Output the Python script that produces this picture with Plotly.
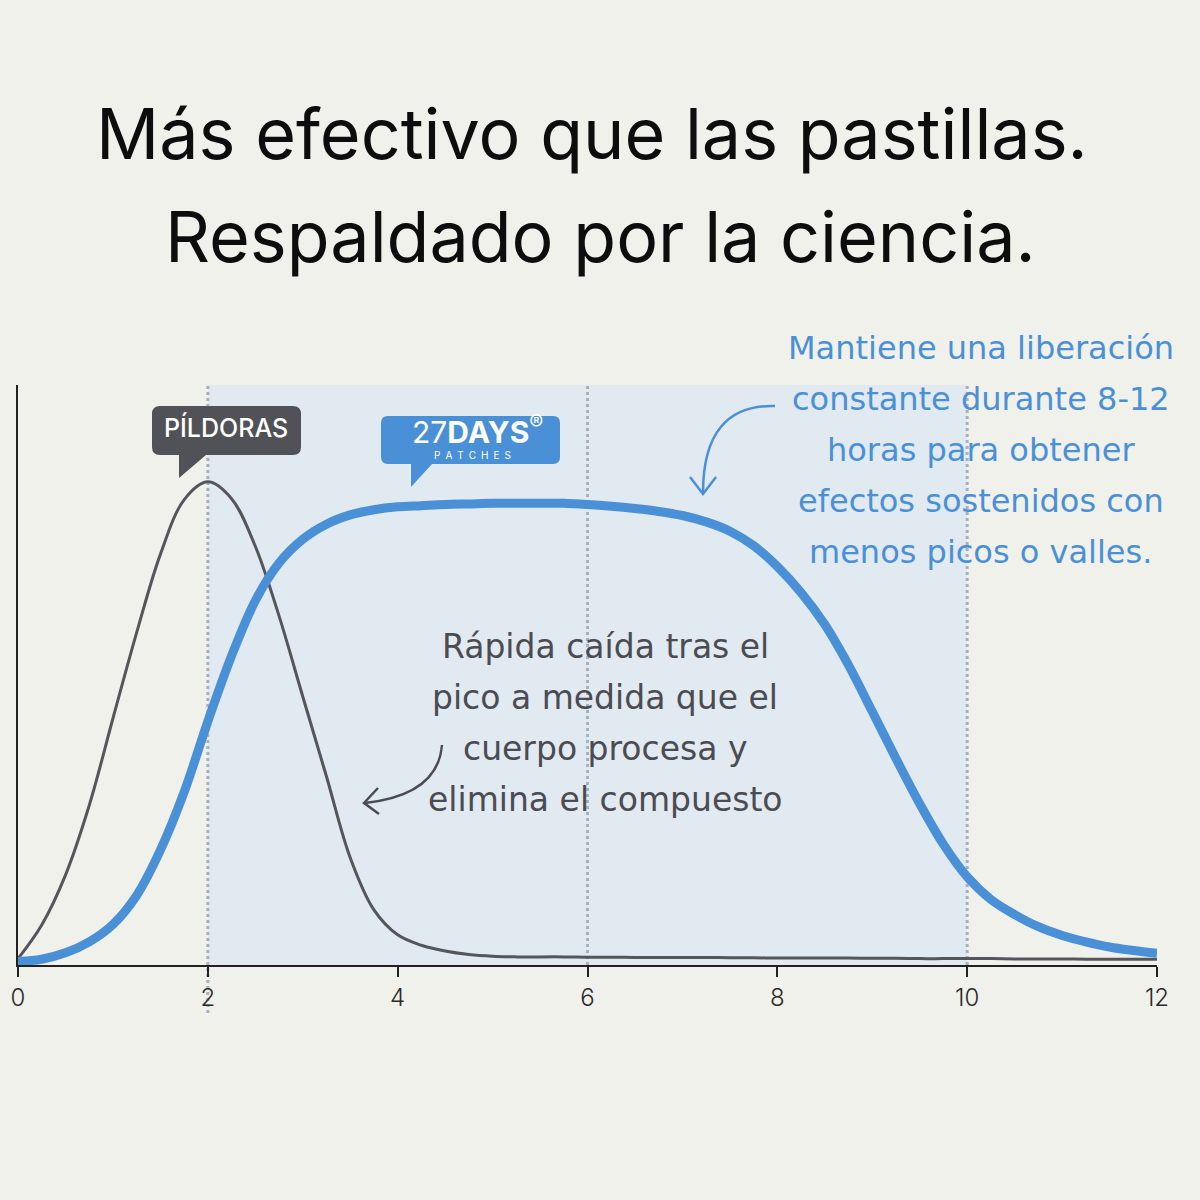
import plotly.graph_objects as go

# hours after intake, sampled every quarter hour
hours = [i * 0.25 for i in range(49)]

# level in % of plot height
level_pill = [1.1, 6.9, 15.5, 27.5, 42.5, 57.3, 70.8, 80.2, 83.3, 80.4, 72.2, 60.2,
              46.3, 32.5, 18.5, 9.5, 5.2, 3.4, 2.4, 1.8, 1.5, 1.4, 1.4, 1.4,
              1.35, 1.35, 1.3, 1.3, 1.3, 1.3, 1.25, 1.25, 1.2, 1.2, 1.2, 1.2,
              1.15, 1.15, 1.1, 1.1, 1.1, 1.1, 1.05, 1.05, 1.05, 1.0, 1.0, 1.0, 1.0]

level_patch = [0.6, 1.0, 2.1, 4.0, 7.0, 12.0, 19.8, 29.8, 42.0, 53.3, 62.8, 69.3,
               73.4, 76.0, 77.6, 78.5, 79.0, 79.2, 79.4, 79.5, 79.6, 79.6, 79.6, 79.6,
               79.4, 79.1, 78.7, 78.2, 77.5, 76.4, 74.8, 72.3, 68.7, 64.2, 58.7, 51.7,
               43.7, 35.6, 27.8, 20.8, 15.2, 11.3, 8.7, 6.6, 5.1, 4.0, 3.1, 2.5, 2.0]

tick_vals = [0, 2, 4, 6, 8, 10, 12]
guide_hours = [2, 6, 10]

title_lines = ["Más efectivo que las pastillas.", "Respaldado por la ciencia."]
patch_note = ["Mantiene una liberación", "constante durante 8-12", "horas para obtener",
              "efectos sostenidos con", "menos picos o valles."]
pill_note = ["Rápida caída tras el", "pico a medida que el", "cuerpo procesa y",
             "elimina el compuesto"]

BG = "#f1f1eb"
BLUE = "#4a90d6"
GREY = "#55565b"
NOTE_GREY = "#4b4b52"
HAND = "DejaVu Sans"

# plot box in pixels
L, R, T, B = 18, 1157, 385, 965


def px(x):
    return (x - L) / (R - L)


def py(y):
    return (B - y) / (B - T)


def box_path(x0, y0, x1, y1, r, tail):
    # rounded box with a speech tail, pixel coords -> paper
    pts = [f"M {px(x0 + r)} {py(y0)}",
           f"L {px(x1 - r)} {py(y0)}", f"Q {px(x1)} {py(y0)} {px(x1)} {py(y0 + r)}",
           f"L {px(x1)} {py(y1 - r)}", f"Q {px(x1)} {py(y1)} {px(x1 - r)} {py(y1)}",
           f"L {px(tail[1])} {py(y1)}", f"L {px(tail[0])} {py(tail[2])}",
           f"L {px(tail[0])} {py(y1)}",
           f"L {px(x0 + r)} {py(y1)}", f"Q {px(x0)} {py(y1)} {px(x0)} {py(y1 - r)}",
           f"L {px(x0)} {py(y0 + r)}", f"Q {px(x0)} {py(y0)} {px(x0 + r)} {py(y0)}", "Z"]
    return " ".join(pts)


def curve_path(p0, c, p1):
    return f"M {px(p0[0])} {py(p0[1])} Q {px(c[0])} {py(c[1])} {px(p1[0])} {py(p1[1])}"


def head_path(tip, a, b):
    return f"M {px(a[0])} {py(a[1])} L {px(tip[0])} {py(tip[1])} L {px(b[0])} {py(b[1])}"


fig = go.Figure()

fig.add_trace(go.Scatter(
    x=hours, y=level_pill, mode="lines",
    line=dict(color=GREY, width=3, shape="spline", smoothing=1.0),
    name="Píldoras", hoverinfo="skip"))

fig.add_trace(go.Scatter(
    x=hours, y=level_patch, mode="lines",
    line=dict(color=BLUE, width=9, shape="spline", smoothing=1.0),
    name="27Days", hoverinfo="skip"))

shapes = []
# shaded window
shapes.append(dict(type="rect", xref="x", yref="paper", x0=2, x1=10, y0=0, y1=1,
                   fillcolor="#e1e9f1", line_width=0, layer="below"))
for h in guide_hours:
    shapes.append(dict(type="line", xref="x", yref="paper", x0=h, x1=h,
                       y0=py(1013) if h == 2 else 0, y1=1,
                       line=dict(color="#a5b0c1", width=3, dash="dot"), layer="below"))

# callout boxes
shapes.append(dict(type="path", xref="paper", yref="paper",
                   path=box_path(152, 406, 301, 455, 8, (179, 206, 478)),
                   fillcolor="#515257", line_width=0))
shapes.append(dict(type="path", xref="paper", yref="paper",
                   path=box_path(381, 416, 560, 464, 7, (411, 432, 487)),
                   fillcolor=BLUE, line_width=0))

# hand drawn arrows
shapes.append(dict(type="path", xref="paper", yref="paper",
                   path=curve_path((775, 406), (703, 404), (703, 493)),
                   line=dict(color=BLUE, width=2.5)))
shapes.append(dict(type="path", xref="paper", yref="paper",
                   path=head_path((703, 494), (690, 477), (716, 477)),
                   line=dict(color=BLUE, width=2.5)))
shapes.append(dict(type="path", xref="paper", yref="paper",
                   path=curve_path((442, 745), (438, 795), (365, 803)),
                   line=dict(color=NOTE_GREY, width=2.5)))
shapes.append(dict(type="path", xref="paper", yref="paper",
                   path=head_path((364, 803), (378, 788), (379, 814)),
                   line=dict(color=NOTE_GREY, width=2.5)))

annotations = []
for i, line in enumerate(title_lines):
    annotations.append(dict(
        text=line, xref="paper", yref="paper", x=px(592 + 8 * i), y=py(133 + 104 * i),
        xanchor="center", yanchor="middle", showarrow=False,
        font=dict(family="Inter", size=70, color="#0d0d0d")))

for i, line in enumerate(patch_note):
    annotations.append(dict(
        text=line, xref="paper", yref="paper", x=px(981), y=py(348 + 51 * i),
        xanchor="center", yanchor="middle", showarrow=False,
        font=dict(family=HAND, size=32, color=BLUE)))

for i, line in enumerate(pill_note):
    annotations.append(dict(
        text=line, xref="paper", yref="paper", x=px(605), y=py(646 + 51 * i),
        xanchor="center", yanchor="middle", showarrow=False,
        font=dict(family=HAND, size=33, color=NOTE_GREY)))

annotations.append(dict(
    text="PÍLDORAS", xref="paper", yref="paper", x=px(226), y=py(427),
    xanchor="center", yanchor="middle", showarrow=False,
    font=dict(family="Inter", size=25, color="white", weight=500)))
annotations.append(dict(
    text="27<b>DAYS</b><sup>®</sup>", xref="paper", yref="paper", x=px(477), y=py(430),
    xanchor="center", yanchor="middle", showarrow=False,
    font=dict(family="Inter", size=30, color="white")))
annotations.append(dict(
    text="\u2002".join("PATCHES"), xref="paper", yref="paper", x=px(472), y=py(455),
    xanchor="center", yanchor="middle", showarrow=False,
    font=dict(family="Inter", size=10, color="white")))

fig.update_layout(
    width=1200, height=1200,
    margin=dict(l=L, r=1200 - R, t=T, b=1200 - B),
    paper_bgcolor=BG, plot_bgcolor=BG,
    showlegend=False,
    shapes=shapes, annotations=annotations,
    xaxis=dict(range=[0, 12], tickvals=tick_vals, ticks="outside", ticklen=10,
               tickwidth=1.5, tickcolor="#222", showline=True, linecolor="#222",
               linewidth=2, showgrid=False, zeroline=False,
               tickfont=dict(family="Inter", size=24, color="#2a2a2a", weight=300)),
    yaxis=dict(range=[0, 100], showticklabels=False, ticks="", showline=True,
               linecolor="#222", linewidth=1.5, showgrid=False, zeroline=False),
)

fig.write_html("out.html", config={"displayModeBar": False},
               post_script="document.body.style.margin='0';document.body.style.overflow='hidden';")
